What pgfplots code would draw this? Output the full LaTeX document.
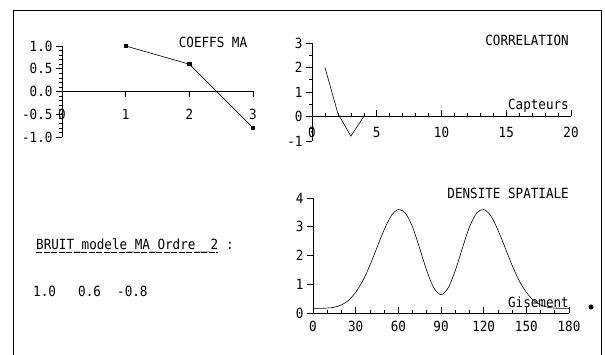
\documentclass[border=0pt]{standalone}
\usepackage{fontspec}
\setmainfont[FakeStretch=0.9]{DejaVu Sans Mono}
\usepackage{pgfplots}
\pgfplotsset{compat=1.18}
\newcommand\pf{\fontsize{14}{16}\selectfont}
\pgfplotsset{plotter/.style={
  scale only axis, axis lines=middle, axis line style={-, line width=0.8pt},
  enlargelimits=false, clip=false,
  tick label style={font=\pf}, /pgf/number format/assume math mode=true,
  every tick/.style={black, line width=0.6pt},
  major tick length=6pt, minor tick length=3pt, tick align=outside,
  hide obscured x ticks=false, hide obscured y ticks=false,
  anchor=south west,
}}
\pgfplotstableread{
x y
0 0.16
5 0.16
10 0.17
15 0.20
20 0.28
25 0.44
30 0.72
35 1.12
40 1.66
45 2.28
50 2.89
55 3.38
60 3.60
65 3.47
70 2.99
75 2.25
80 1.47
85 0.87
90 0.64
95 0.87
100 1.47
105 2.25
110 2.99
115 3.47
120 3.60
125 3.38
130 2.89
135 2.28
140 1.66
145 1.12
150 0.72
155 0.44
160 0.28
165 0.20
170 0.17
175 0.16
180 0.16
}\densite
\begin{document}
\begin{tikzpicture}[x=1pt,y=1pt]
\useasboundingbox (0,0) rectangle (605,355);
\draw[line width=1pt] (13,0) -- (13,344) -- (601,344) -- (601,0);
% COEFFS MA
\begin{axis}[plotter, at={(62pt,218pt)}, width=191pt, height=91pt,
  xmin=0, xmax=3, ymin=-1, ymax=1,
  xtick={0,1,2,3}, xticklabels={0,1,2,3},
  ytick={-1,-0.5,0,0.5,1}, yticklabels={-1.0,-0.5,0.0,0.5,1.0},
  minor y tick num=4,
  x tick label style={yshift=-8pt}]
\addplot[black, line width=0.6pt, mark=square*, mark size=1.6pt] coordinates {(1,1.0) (2,0.6) (3,-0.8)};
\end{axis}
% CORRELATION
\begin{axis}[plotter, at={(312pt,214pt)}, width=259pt, height=98pt,
  xmin=0, xmax=20, ymin=-1, ymax=3,
  xtick={0,5,10,15,20}, minor x tick num=4,
  ytick={-1,0,1,2,3}, minor y tick num=1,
  x tick label style={yshift=-1pt},
  major x tick style={yshift=6pt}, minor x tick style={yshift=3pt}]
\addplot[black, line width=0.6pt] coordinates {(1,2.0) (2,0.12) (3,-0.8) (4,0) (5,0) (6,0) (7,0) (8,0) (9,0) (10,0) (11,0) (12,0) (13,0) (14,0) (15,0) (16,0) (17,0) (18,0) (19,0) (20,0)};
\end{axis}
% DENSITE SPATIALE
\begin{axis}[plotter, at={(313pt,42pt)}, width=256pt, height=115pt,
  xmin=0, xmax=180, ymin=0, ymax=4,
  xtick={0,30,60,90,120,150,180}, minor x tick num=2,
  ytick={0,1,2,3,4},
  x tick label style={yshift=1pt},
  major x tick style={yshift=6pt}, minor x tick style={yshift=3pt}]
\addplot[black, line width=0.6pt, smooth] table[x=x,y=y] {\densite};
\end{axis}
\begin{scope}[every node/.style={font=\pf, inner sep=0pt}]
\node at (213,313) {COEFFS MA};
\node[anchor=east] at (569,315) {CORRELATION};
\node[anchor=east] at (569,249) {Capteurs};
\node[anchor=east] at (569,162) {DENSITE SPATIALE};
\node[anchor=east] at (569,53) {Gisement};
\node[anchor=west] (b) at (36,109) {BRUIT\_modele\_MA\_Ordre\_\_2};
\node[anchor=base west] at (b.base east) {\ :};
\node[anchor=west] at (33,64) {1.0};
\node[anchor=west] at (78,64) {0.6};
\node[anchor=west] at (117,64) {-0.8};
\end{scope}
\draw[line width=0.6pt, dash pattern=on 6pt off 1.5pt] ([yshift=-3pt]b.base west) -- ([yshift=-3pt]b.base east);
\fill (591,48) circle (2.5);
\end{tikzpicture}
\end{document}
